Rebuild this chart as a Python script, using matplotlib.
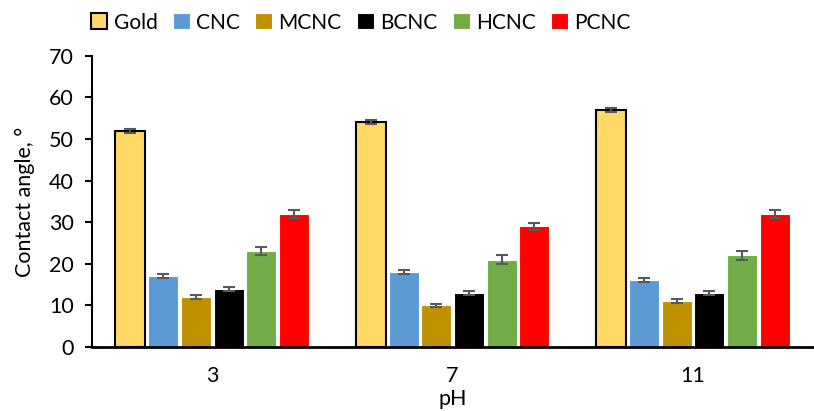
import numpy as np
import matplotlib.pyplot as plt

plt.rcParams["font.family"] = ["Lato", "DejaVu Sans"]

# data
ph_labels = ["3", "7", "11"]
samples = ["Gold", "CNC", "MCNC", "BCNC", "HCNC", "PCNC"]
gold = [52, 54, 57]
cnc = [17, 18, 16]
mcnc = [12, 10, 11]
bcnc = [14, 13, 13]
hcnc = [23, 21, 22]
pcnc = [32, 29, 32]
gold_err = [0.5, 0.5, 0.5]
cnc_err = [0.5, 0.5, 0.5]
mcnc_err = [0.4, 0.4, 0.4]
bcnc_err = [0.5, 0.5, 0.5]
hcnc_err = [1.0, 1.0, 1.0]
pcnc_err = [0.9, 0.9, 0.9]

values = [gold, cnc, mcnc, bcnc, hcnc, pcnc]
errors = [gold_err, cnc_err, mcnc_err, bcnc_err, hcnc_err, pcnc_err]
colors = ["#FFD966", "#5B9BD5", "#BF9000", "#000000", "#70AD47", "#FF0000"]
edges = ["black", "white", "white", "white", "white", "white"]

FS = 15.5

fig = plt.figure(figsize=(8.14, 4.11), dpi=100)
ax = fig.add_axes([0.113, 0.156, 0.886, 0.708])

x = np.arange(len(ph_labels))
slot = 0.136
width = 0.125
for i, (name, vals, errs) in enumerate(zip(samples, values, errors)):
    pos = x + (i - 2.5) * slot
    ax.bar(pos, vals, width=width, color=colors[i], edgecolor=edges[i],
           linewidth=1.5 if i == 0 else 0.8, label=name, zorder=2)
    ax.errorbar(pos, vals, yerr=errs, fmt="none", ecolor="#595959",
                elinewidth=1.5, capsize=4, capthick=1.5, zorder=3)

ax.set_xlim(-0.5, 2.5)
ax.set_ylim(0, 70)
ax.set_yticks(range(0, 71, 10))
ax.set_xticks(x)
ax.set_xticklabels(ph_labels)
ax.tick_params(axis="x", length=0, labelsize=FS, pad=14)
ax.tick_params(axis="y", length=5, width=1.5, labelsize=FS, direction="out", pad=8)
ax.spines["top"].set_visible(False)
ax.spines["right"].set_visible(False)
ax.spines["left"].set_linewidth(1.5)
ax.spines["bottom"].set_linewidth(2)
ax.set_ylabel("Contact angle, \u00b0", fontsize=FS, labelpad=10)
ax.set_xlabel("pH", fontsize=FS, labelpad=2)

fig.legend(loc="center", bbox_to_anchor=(0.443, 0.945), ncol=6,
           frameon=False, fontsize=15, handlelength=0.8, handleheight=0.8,
           handletextpad=0.3, columnspacing=0.75, borderpad=0.1)

fig.savefig("out.png", dpi=100)
